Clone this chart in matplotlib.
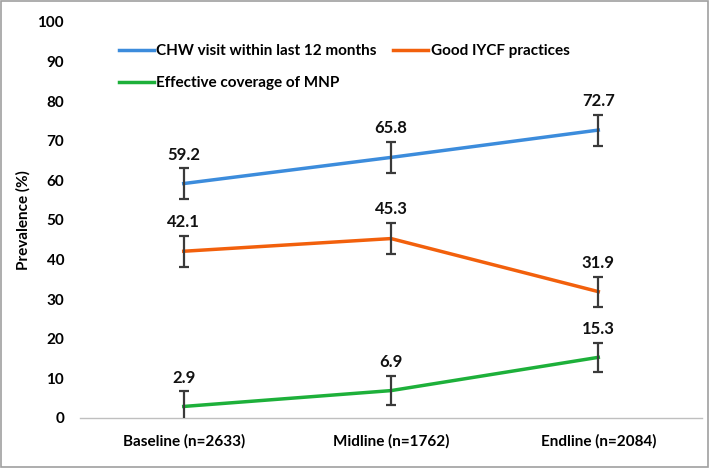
import matplotlib
matplotlib.use("Agg")
import matplotlib.pyplot as plt
from matplotlib.patches import Rectangle

categories = ["Baseline (n=2633)", "Midline (n=1762)", "Endline (n=2084)"]
series_names = ["CHW visit within last 12 months", "Good IYCF practices", "Effective coverage of MNP"]
chw = [59.2, 65.8, 72.7]
iycf = [42.1, 45.3, 31.9]
mnp = [2.9, 6.9, 15.3]
chw_err = [3.9, 3.9, 3.9]
iycf_err = [3.9, 4.0, 3.8]
mnp_err = [3.8, 3.7, 3.7]
colors = ["#3C8CDC", "#F2600C", "#1DB03A"]

plt.rcParams['font.family'] = ['Lato', 'DejaVu Sans']
fig = plt.figure(figsize=(7.09, 4.68), dpi=100)
ax = fig.add_axes([0.113, 0.107, 0.877, 0.846])

x = list(range(len(categories)))
lines = []
for vals, errs, c, name in zip([chw, iycf, mnp], [chw_err, iycf_err, mnp_err], colors, series_names):
    ln, = ax.plot(x, vals, color=c, lw=2.5, label=name, zorder=3)
    lines.append(ln)
    ax.errorbar(x, vals, yerr=errs, fmt='none', ecolor='#3a3a3a', elinewidth=1.6, capsize=3.5, capthick=1.6, zorder=4)
    for xi, v, e in zip(x, vals, errs):
        ax.annotate(f"{v:.1f}", (xi, v + e), xytext=(0, 4), textcoords='offset points',
                    ha='center', va='bottom', fontsize=12, fontweight='bold', color='#111111')

ax.set_xlim(-0.5, 2.5)
ax.set_ylim(0, 100)
ax.set_yticks(range(0, 101, 10))
ax.set_xticks(x)
ax.set_xticklabels(categories, fontsize=11, fontweight='bold')
for lab in ax.get_yticklabels():
    lab.set_fontsize(11)
    lab.set_fontweight('bold')
ax.tick_params(axis='x', length=0, pad=12)
ax.tick_params(axis='y', length=0, pad=11.5)
for s in ['top', 'right', 'left']:
    ax.spines[s].set_visible(False)
ax.spines['bottom'].set_color('#bfbfbf')
ax.spines['bottom'].set_linewidth(1)
ax.set_ylabel("Prevalence (%)", fontsize=11, fontweight='bold', labelpad=5)

order = [0, 2, 1]
leg = ax.legend([lines[i] for i in order], [series_names[i] for i in order],
                loc='upper left', bbox_to_anchor=(0.052, 0.96), ncol=2, frameon=False,
                fontsize=11, handlelength=2.3, handletextpad=0.15, columnspacing=1.1,
                labelspacing=1.2, borderaxespad=0)
for t in leg.get_texts():
    t.set_fontweight('bold')

fig.patches.append(Rectangle((0.002, 0.003), 0.996, 0.994, transform=fig.transFigure,
                             fill=False, edgecolor='#a0a0a0', lw=1.2))
fig.savefig("out.png", dpi=100)
